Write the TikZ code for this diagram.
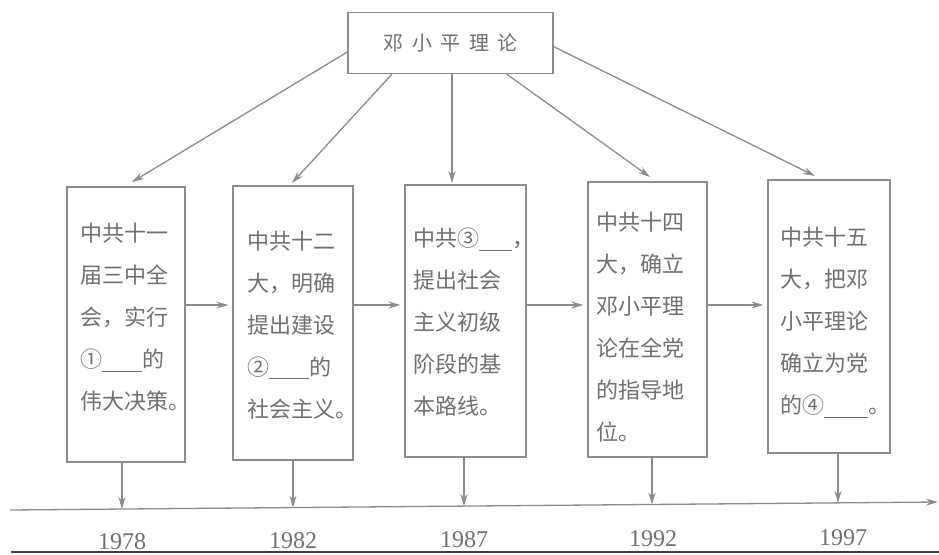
\documentclass[tikz,border=0pt]{standalone}
\usepackage{fontspec}
\setmainfont{Liberation Serif}
\newfontfamily\cjk{Noto Sans CJK SC}
\usetikzlibrary{arrows.meta}
\definecolor{ln}{HTML}{8C8C8C}
\definecolor{tx}{HTML}{707070}
\newcommand{\blankline}[1]{\rule[-4pt]{#1}{0.9pt}}
\newcommand{\gsp}{\hspace{8.5pt}}
\begin{document}
\begin{tikzpicture}[x=1pt,y=-1pt,
  arr/.style={draw=ln, line width=1.3pt, -{Stealth[length=12pt,width=7pt]}},
  stagebox/.style={draw=ln, line width=1.3pt, minimum width=#1},
  stagetext/.style={text=tx, inner sep=0pt, text width=#1, align=left,
    font=\cjk\fontsize{22pt}{42pt}\selectfont},
  topbox/.style={draw=ln, line width=1.3pt, text=tx, minimum width=205pt, minimum height=61pt,
    font=\cjk\fontsize{20pt}{20pt}\selectfont},
  year/.style={text=tx, font=\fontsize{24pt}{24pt}\selectfont, inner sep=0pt}
]
\useasboundingbox (0,0) rectangle (939,554);
\fill[white] (0,0) rectangle (939,554);

\node[topbox] (top) at (450.5,43) {邓\gsp 小\gsp 平\gsp 理\gsp 论};

\node[stagebox=118pt, minimum height=275pt] (b1) at (126,324.5) {};
\node[stagebox=120pt, minimum height=274pt] (b2) at (293,323) {};
\node[stagebox=121pt, minimum height=272pt] (b3) at (465.5,321) {};
\node[stagebox=119pt, minimum height=275pt] (b4) at (647.5,319.5) {};
\node[stagebox=122pt, minimum height=273pt] (b5) at (829,316.5) {};

\node[stagetext=92pt] (s1) at ([yshift=7pt]b1.center) {中共十一\\届三中全\\会，实行\\①\blankline{40pt}的\\伟大决策\rlap{。}};
\node[stagetext=92pt] (s2) at ([yshift=-2pt]b2.center) {中共十二\\大，明确\\提出建设\\②\blankline{40pt}的\\社会主义\rlap{。}};
\node[stagetext=105pt] (s3) at ([yshift=-1pt]b3.center) {中共③\blankline{33pt}\rlap{，}\\提出社会\\主义初级\\阶段的基\\本路线。};
\node[stagetext=103pt] (s4) at ([yshift=-8pt]b4.center) {中共十四\\大，确立\\邓小平理\\论在全党\\的指导地\\位。};
\node[stagetext=98pt] (s5) at ([yshift=-6pt]b5.center) {中共十五\\大，把邓\\小平理论\\确立为党\\的④\blankline{44pt}\rlap{。}};

% arrows from the top box
\coordinate (e1) at (132,182);
\coordinate (e2) at (292,183);
\coordinate (e3) at (452,183);
\coordinate (e4) at (650,177);
\coordinate (e5) at (815,176);
\draw[arr] (top.185) -- (e1);
\draw[arr] (top.208) -- (e2);
\draw[arr] (top.south -| e3) -- (e3);
\draw[arr] (top.331) -- (e4);
\draw[arr] (top.358) -- (e5);

% horizontal arrows
\coordinate (h) at (0,305);
\draw[arr, shorten >=4pt] (b1.east |- h) -- (b2.west |- h);
\draw[arr, shorten >=4pt] (b2.east |- h) -- (b3.west |- h);
\draw[arr, shorten >=4pt] (b3.east |- h) -- (b4.west |- h);
\draw[arr, shorten >=4pt] (b4.east |- h) -- (b5.west |- h);

% timeline
\coordinate (tl0) at (10,510);
\coordinate (tl1) at (938,502);
\draw[arr] (tl0) -- (tl1);
\coordinate (t1) at (122,509.0);
\coordinate (t2) at (293,507.6);
\coordinate (t3) at (464,506.1);
\coordinate (t4) at (652,504.5);
\coordinate (t5) at (838,502.9);
\draw[arr] (b1.south -| t1) -- (t1);
\draw[arr] (b2.south -| t2) -- (t2);
\draw[arr] (b3.south -| t3) -- (t3);
\draw[arr] (b4.south -| t4) -- (t4);
\draw[arr] (b5.south -| t5) -- (t5);

\node[year] (y1) at (122,542) {1978};
\node[year] (y2) at (293,541) {1982};
\node[year] (y3) at (464,540) {1987};
\node[year] (y4) at (653,539) {1992};
\node[year] (y5) at (843,538) {1997};

\draw[line width=2pt, black!75] (11,552) -- (939,552);
\end{tikzpicture}
\end{document}
